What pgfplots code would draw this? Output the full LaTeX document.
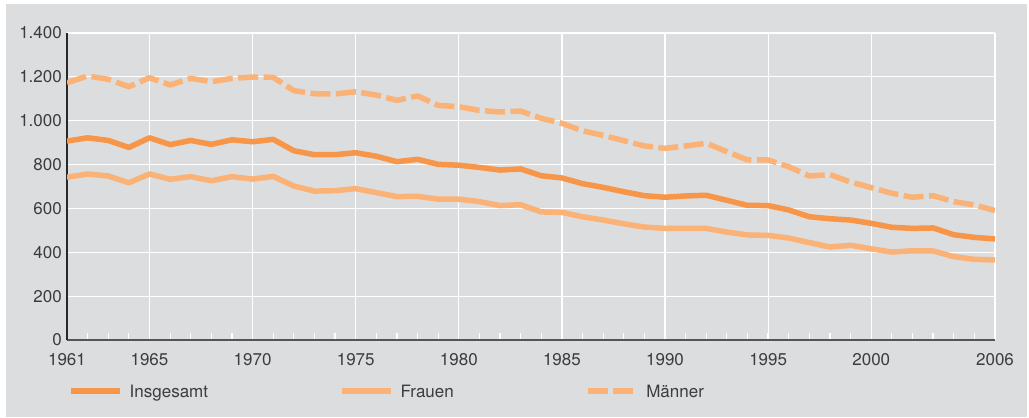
\documentclass[border=0pt]{standalone}
\usepackage{fontspec}
\setmainfont{TeX Gyre Heros}
\usepackage{pgfplots}
\usepackage{pgfplotstable}
\pgfplotsset{compat=1.18}

\definecolor{bg}{RGB}{220,221,223}
\definecolor{txt}{RGB}{60,60,60}
\definecolor{insg}{RGB}{247,150,72}
\definecolor{hell}{RGB}{251,178,118}

\pgfplotstableread{
jahr insgesamt frauen maenner
1961 907 742 1173
1962 922 757 1204
1963 910 748 1189
1964 878 717 1155
1965 922 757 1196
1966 891 733 1163
1967 910 745 1193
1968 892 726 1178
1969 913 745 1193
1970 904 734 1199
1971 915 746 1198
1972 863 702 1137
1973 845 679 1123
1974 845 681 1122
1975 854 690 1132
1976 838 672 1117
1977 813 654 1093
1978 824 655 1113
1979 801 642 1070
1980 797 642 1064
1981 787 631 1047
1982 775 613 1040
1983 780 617 1044
1984 749 584 1011
1985 739 582 988
1986 713 562 954
1987 696 547 933
1988 676 530 909
1989 658 515 885
1990 651 509 874
1991 657 509 885
1992 660 509 897
1993 637 492 859
1994 614 479 821
1995 613 477 821
1996 593 465 790
1997 562 444 748
1998 553 424 754
1999 547 432 720
2000 532 416 695
2001 514 401 669
2002 509 407 651
2003 511 406 658
2004 480 380 631
2005 468 368 616
2006 461 365 590
}\daten

\begin{document}
\begin{tikzpicture}
\fill[white] (0pt,0pt) rectangle (1029pt,418pt);
\fill[bg] (6pt,1pt) rectangle (1027pt,414pt);
\begin{axis}[
    at={(67pt,78pt)}, anchor=south west,
    scale only axis, width=928pt, height=307pt,
    xmin=1961, xmax=2006, ymin=0, ymax=1400,
    xtick={1961,1965,1970,1975,1980,1985,1990,1995,2000,2006},
    minor xtick={1962,...,2005},
    ytick={0,200,...,1400},
    axis x line*=bottom, axis y line*=left,
    x axis line style={draw={rgb,255:red,85;green,85;blue,85}, line width=1.3pt, -},
    y axis line style={draw={rgb,255:red,40;green,40;blue,40}, line width=1.3pt, -},
    grid=major,
    major grid style={white, line width=1.2pt},
    tick align=inside,
    major tick length=0pt,
    minor tick length=7pt,
    minor tick style={white, line width=1.2pt},
    ytick pos=left, xtick pos=bottom,
    scaled ticks=false,
    /pgf/number format/assume math mode=true,
    tick label style={font=\fontsize{17}{20}\selectfont, text=txt},
    xticklabel style={/pgf/number format/1000 sep={}, anchor=north, inner sep=0pt, yshift=-13pt},
    yticklabel style={/pgf/number format/1000 sep={.}, anchor=east, inner sep=0pt, xshift=-5pt},
    legend columns=3,
    legend style={at={(0.00108,-0.1661)}, anchor=west, draw=none, fill=none,
        inner sep=0pt, font=\fontsize{17}{20}\selectfont, text=txt,
        nodes={anchor=west, inner sep=0pt, text height=12.2pt, text depth=0pt},
        /tikz/every odd column/.style={column sep=7pt},
        /tikz/every even column/.style={column sep=131pt}},
    legend image code/.code={\draw[#1, line width=5.5pt] (0pt,0pt) -- (49pt,0pt);},
    every axis plot/.append style={line join=round, line width=5.5pt},
]
\addplot[insg, no markers] table[x=jahr, y=insgesamt] {\daten};
\addlegendentry{Insgesamt}
\addplot[hell, no markers] table[x=jahr, y=frauen] {\daten};
\addlegendentry{Frauen}
\addplot[hell, no markers, dash pattern=on 20pt off 5.5pt] table[x=jahr, y=maenner] {\daten};
\addlegendentry{Männer}
\end{axis}
\end{tikzpicture}
\end{document}
